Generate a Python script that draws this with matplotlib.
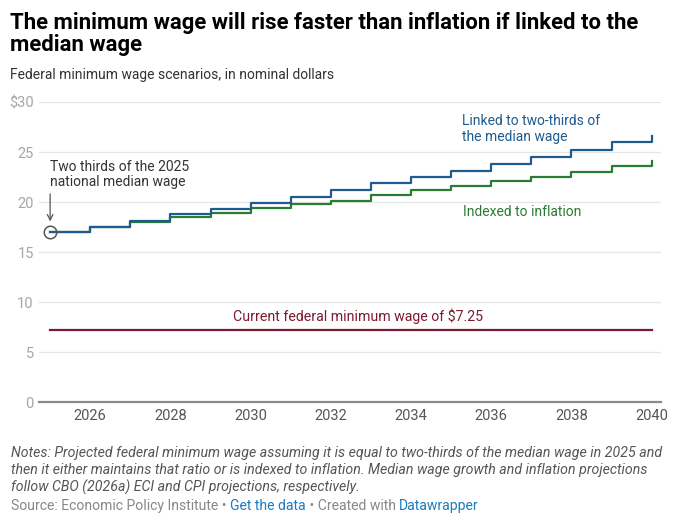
import numpy as np
import matplotlib
matplotlib.use("Agg")
import matplotlib.pyplot as plt

plt.rcParams['font.family'] = ['Roboto', 'DejaVu Sans']

# data
years = list(range(2025, 2041))
median_linked = [17.08, 17.58, 18.18, 18.82, 19.38, 19.92, 20.52, 21.25,
                 21.92, 22.52, 23.15, 23.82, 24.52, 25.25, 26.02, 26.68]
inflation_indexed = [17.08, 17.58, 18.02, 18.55, 18.98, 19.45, 19.85, 20.18,
                     20.75, 21.25, 21.65, 22.15, 22.58, 23.08, 23.62, 24.18]
current_min = 7.25
x_ticks = list(range(2026, 2041, 2))
y_ticks = [0, 5, 10, 15, 20, 25, 30]
y_labels = ['0', '5', '10', '15', '20', '25', '$30']

BLUE = '#1f5b8f'
GREEN = '#2a7b33'
MAROON = '#7b1b32'

fig = plt.figure(figsize=(6.87, 5.20), dpi=100)
ax = fig.add_axes([0.0572, 0.226, 0.9054, 0.577])

for y in y_ticks[1:]:
    ax.axhline(y, color='#e6e6e6', lw=0.9, zorder=0)
ax.axhline(0, color='#8a8a8a', lw=1.6, zorder=1, clip_on=False)

ax.plot(years, inflation_indexed, drawstyle='steps-post', color=GREEN, lw=1.6, zorder=3)
ax.plot(years, median_linked, drawstyle='steps-post', color=BLUE, lw=1.6, zorder=4)
ax.plot([years[0], years[-1]], [current_min, current_min], color=MAROON, lw=1.6, zorder=3)

# starting point marker + annotation
ax.plot([years[0]], [median_linked[0]], marker='o', ms=9, mfc='none', mec='#555555', mew=1.1,
        zorder=5, clip_on=False)
ax.annotate('', xy=(years[0], 18.1), xytext=(years[0], 20.85),
            arrowprops=dict(arrowstyle='->', color='#555555', lw=0.9, shrinkA=0, shrinkB=0))
ax.text(years[0], 22.8, 'Two thirds of the 2025\nnational median wage', ha='left', va='center',
        fontsize=10, color='#333333', linespacing=1.15)

ax.text(2035.27, 27.33, 'Linked to two-thirds of\nthe median wage', ha='left', va='center',
        fontsize=10, color=BLUE, linespacing=1.15)
ax.text(2035.29, 19.02, 'Indexed to inflation', ha='left', va='center',
        fontsize=10, color=GREEN)
ax.text(2032.68, 8.65, 'Current federal minimum wage of $7.25', ha='center', va='center',
        fontsize=10.2, color=MAROON)

ax.set_xlim(2024.73, 2040.24)
ax.set_ylim(0, 30)
ax.set_xticks(x_ticks)
ax.set_xticklabels([str(t) for t in x_ticks])
ax.set_yticks(y_ticks)
ax.set_yticklabels(y_labels)
ax.tick_params(axis='x', length=0, pad=5, labelsize=10.5, labelcolor='#555555')
ax.tick_params(axis='y', length=0, pad=4, labelsize=10.5, labelcolor='#a6a6a6')
for s in ax.spines.values():
    s.set_visible(False)
ax.set_facecolor('none')

# titles
fig.text(0.0146, 1 - 28.5 / 520, 'The minimum wage will rise faster than inflation if linked to the',
         fontsize=15.9, fontweight='bold', color='#000000', va='baseline')
fig.text(0.0146, 1 - 51 / 520, 'median wage',
         fontsize=15.9, fontweight='bold', color='#000000', va='baseline')
fig.text(0.0146, 1 - 78.5 / 520, 'Federal minimum wage scenarios, in nominal dollars',
         fontsize=10, color='#333333', va='baseline')

notes = ('Notes: Projected federal minimum wage assuming it is equal to two-thirds of the median wage in 2025 and\n'
         'then it either maintains that ratio or is indexed to inflation. Median wage growth and inflation projections\n'
         'follow CBO (2026a) ECI and CPI projections, respectively.')
fig.text(0.016, 1 - 446 / 520, notes, fontsize=10.2, style='italic', color='#555555',
         va='top', linespacing=1.25)

src = fig.text(0.016, 1 - 510 / 520, 'Source: Economic Policy Institute \u2022 ', fontsize=10.1,
               color='#888888', va='baseline')
parts = [('Get the data', '#1a7dc0'), (' \u2022 Created with ', '#888888'), ('Datawrapper', '#1a7dc0')]
prev = src
for txt, col in parts:
    prev = ax.annotate(txt, xy=(1, 0), xycoords=prev, va='bottom', ha='left',
                       fontsize=10.1, color=col, annotation_clip=False)

fig.savefig('out.png', dpi=100, facecolor='white')
